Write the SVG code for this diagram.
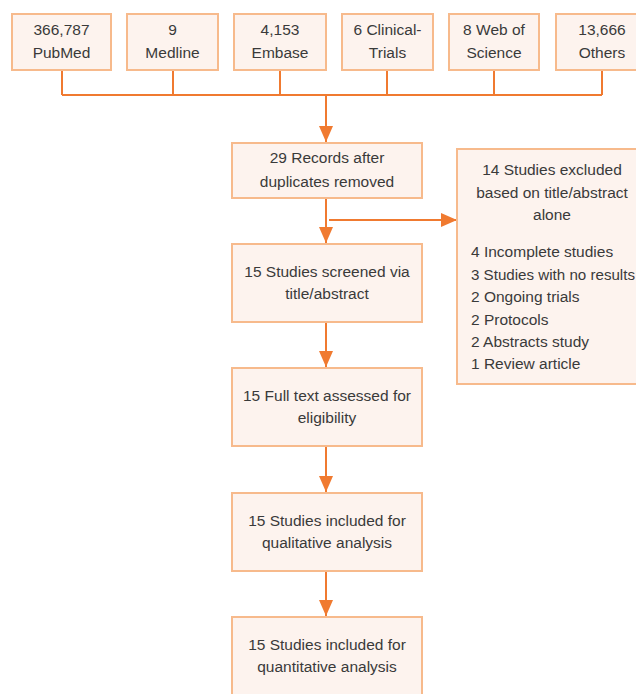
<svg xmlns="http://www.w3.org/2000/svg" width="636" height="694" viewBox="0 0 636 694">
<style>
.box{fill:#FDF3EE;stroke:#F7BA8C;stroke-width:2}
.t{font-family:"Liberation Sans",Arial,sans-serif;font-size:15.5px;fill:#3a3a3a;text-anchor:middle}
.l{font-family:"Liberation Sans",Arial,sans-serif;font-size:15.5px;fill:#3a3a3a}
.c{fill:none;stroke:#F07A30;stroke-width:2}
</style>
<defs>
<marker id="ah" markerWidth="16" markerHeight="14" refX="16" refY="7" orient="auto" markerUnits="userSpaceOnUse">
<path d="M0,0 L16,7 L0,14 Z" fill="#F07A30"/>
</marker>
</defs>
<rect width="636" height="694" fill="#fff"/>
<g id="connectors">
<path class="c" d="M62,70 V95 M173,70 V95 M280,70 V95 M387,70 V95 M494,70 V95 M602,70 V95 M62,95 H602"/>
<path class="c" d="M326,95 V142" marker-end="url(#ah)"/>
<path class="c" d="M326,198 V243" marker-end="url(#ah)"/>
<path class="c" d="M329,220 H457" marker-end="url(#ah)"/>
<path class="c" d="M326,322 V367" marker-end="url(#ah)"/>
<path class="c" d="M326,446 V492" marker-end="url(#ah)"/>
<path class="c" d="M326,571 V616" marker-end="url(#ah)"/>
</g>
<g id="pubmed"><rect class="box" x="12" y="14" width="99" height="56"/><text class="t" x="61.5" y="35">366,787</text><text class="t" x="61.5" y="58">PubMed</text></g>
<g id="medline"><rect class="box" x="127" y="14" width="91" height="56"/><text class="t" x="172.5" y="35">9</text><text class="t" x="172.5" y="58">Medline</text></g>
<g id="embase"><rect class="box" x="234" y="14" width="92" height="56"/><text class="t" x="280" y="35">4,153</text><text class="t" x="280" y="58">Embase</text></g>
<g id="clinical"><rect class="box" x="342" y="14" width="91" height="56"/><text class="t" x="387.5" y="35">6 Clinical-</text><text class="t" x="387.5" y="58">Trials</text></g>
<g id="wos"><rect class="box" x="449" y="14" width="90" height="56"/><text class="t" x="494" y="35">8 Web of</text><text class="t" x="494" y="58">Science</text></g>
<g id="others"><rect class="box" x="556" y="14" width="90" height="56"/><text class="t" x="602" y="35">13,666</text><text class="t" x="602" y="58">Others</text></g>
<g id="records"><rect class="box" x="232" y="143" width="190" height="55"/><text class="t" x="327" y="163">29 Records after</text><text class="t" x="327" y="187">duplicates removed</text></g>
<g id="excluded"><rect class="box" x="457" y="149" width="190" height="235"/>
<text class="t" x="552" y="175">14 Studies excluded</text><text class="t" x="552" y="198">based on title/abstract</text><text class="t" x="552" y="220">alone</text>
<text class="l" x="471" y="257">4 Incomplete studies</text><text class="l" x="471" y="280" textLength="164" lengthAdjust="spacingAndGlyphs">3 Studies with no results</text><text class="l" x="471" y="302">2 Ongoing trials</text><text class="l" x="471" y="325">2 Protocols</text><text class="l" x="471" y="347">2 Abstracts study</text><text class="l" x="471" y="369">1 Review article</text></g>
<g id="screened"><rect class="box" x="232" y="244" width="190" height="78"/><text class="t" x="327" y="277">15 Studies screened via</text><text class="t" x="327" y="299">title/abstract</text></g>
<g id="fulltext"><rect class="box" x="232" y="368" width="190" height="78"/><text class="t" x="327" y="401">15 Full text assessed for</text><text class="t" x="327" y="423">eligibility</text></g>
<g id="qualitative"><rect class="box" x="232" y="493" width="190" height="78"/><text class="t" x="327" y="526">15 Studies included for</text><text class="t" x="327" y="548">qualitative analysis</text></g>
<g id="quantitative"><rect class="box" x="232" y="617" width="190" height="90"/><text class="t" x="327" y="650">15 Studies included for</text><text class="t" x="327" y="672">quantitative analysis</text></g>
</svg>
